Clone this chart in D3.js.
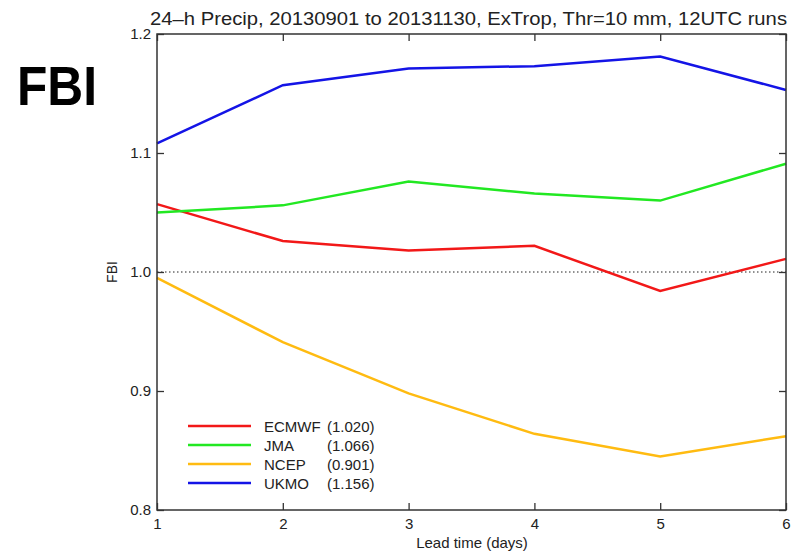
<!DOCTYPE html>
<html>
<head>
<meta charset="utf-8">
<script src="https://cdn.jsdelivr.net/npm/d3@7"></script>
<style>
  body { margin: 0; background: #fff; }
  text { font-family: "Liberation Sans", Arial, sans-serif; fill: #222; }
</style>
</head>
<body>
<svg id="svg"></svg>
<script>
// lead days and FBI per centre
var days = [1, 2, 3, 4, 5, 6];
var ecmwf = [1.057, 1.026, 1.018, 1.022, 0.984, 1.011];
var jma   = [1.050, 1.056, 1.076, 1.066, 1.060, 1.091];
var ncep  = [0.995, 0.941, 0.898, 0.864, 0.845, 0.862];
var ukmo  = [1.108, 1.157, 1.171, 1.173, 1.181, 1.153];
var names = ["ECMWF", "JMA", "NCEP", "UKMO"];
var means = ["(1.020)", "(1.066)", "(0.901)", "(1.156)"];
var colors = ["#f21818", "#22e822", "#ffbb11", "#1414e6"];
var yTicks = [0.8, 0.9, 1.0, 1.1, 1.2];

var series = [ecmwf, jma, ncep, ukmo];

svg = d3.select("#svg")
        .attr("width", 793)
        .attr("height", 555);

var L = 157, R = 786, T = 34, B = 510;

x = d3.scaleLinear().domain([1, 6]).range([L, R]);
y = d3.scaleLinear().domain([0.8, 1.2]).range([B, T]);

// reference line at FBI = 1
svg.append("line")
   .attr("x1", L).attr("x2", R)
   .attr("y1", y(1)).attr("y2", y(1))
   .attr("stroke", "#222").attr("stroke-width", 1)
   .attr("stroke-dasharray", "1.5,2.5");

line = d3.line().x(function(d, i){ return x(days[i]); }).y(function(d){ return y(d); });

svg.selectAll(".series").data(series).enter()
   .append("path").attr("class", "series")
   .attr("d", line)
   .attr("fill", "none")
   .attr("stroke", function(d, i){ return colors[i]; })
   .attr("stroke-width", 2.5);

// frame with inward ticks on all sides
svg.append("rect")
   .attr("x", L).attr("y", T).attr("width", R - L).attr("height", B - T)
   .attr("fill", "none").attr("stroke", "#333").attr("stroke-width", 1.5);

svg.append("g").attr("transform", "translate(0," + B + ")")
   .call(d3.axisBottom(x).tickValues(days).tickSize(-7).tickPadding(8).tickFormat(d3.format("d")));
svg.append("g").attr("transform", "translate(0," + T + ")")
   .call(d3.axisTop(x).tickValues(days).tickSize(-7).tickFormat(""));
svg.append("g").attr("transform", "translate(" + L + ",0)")
   .call(d3.axisLeft(y).tickValues(yTicks).tickSize(-7).tickPadding(6).tickFormat(d3.format(".1f")));
svg.append("g").attr("transform", "translate(" + R + ",0)")
   .call(d3.axisRight(y).tickValues(yTicks).tickSize(-7).tickFormat(""));

svg.selectAll(".domain").remove();
svg.selectAll(".tick line").attr("stroke", "#333").attr("stroke-width", 1.3);
svg.selectAll(".tick text").attr("font-size", 15).attr("font-family", "Liberation Sans, Arial, sans-serif").attr("fill", "#222");

// titles
svg.append("text").attr("x", 150).attr("y", 25)
   .attr("font-size", 18)
   .attr("textLength", 637).attr("lengthAdjust", "spacingAndGlyphs")
   .text("24\u2013h Precip, 20130901 to 20131130, ExTrop, Thr=10 mm, 12UTC runs");

svg.append("text").attr("x", 472).attr("y", 548)
   .attr("text-anchor", "middle").attr("font-size", 15)
   .text("Lead time (days)");

svg.append("text").attr("transform", "translate(117 " + y(1.0) + ") rotate(-90)")
   .attr("text-anchor", "middle").attr("font-size", 14)
   .text("FBI");

svg.append("text").attr("x", 17).attr("y", 105)
   .attr("font-size", 55).attr("font-weight", "bold").style("fill", "#000")
   .attr("textLength", 80).attr("lengthAdjust", "spacingAndGlyphs")
   .text("FBI");

// legend
var leg = svg.selectAll(".leg").data(names).enter()
   .append("g").attr("class", "leg")
   .attr("transform", function(d, i){ return "translate(188," + (426 + i * 19) + ")"; });

leg.append("line").attr("x1", 0).attr("x2", 63)
   .attr("stroke", function(d, i){ return colors[i]; }).attr("stroke-width", 2.5);
leg.append("text").attr("x", 76).attr("y", 5.5).attr("font-size", 15)
   .text(function(d){ return d; });
leg.append("text").attr("x", 139).attr("y", 5.5).attr("font-size", 15)
   .text(function(d, i){ return means[i]; });
</script>
</body>
</html>
